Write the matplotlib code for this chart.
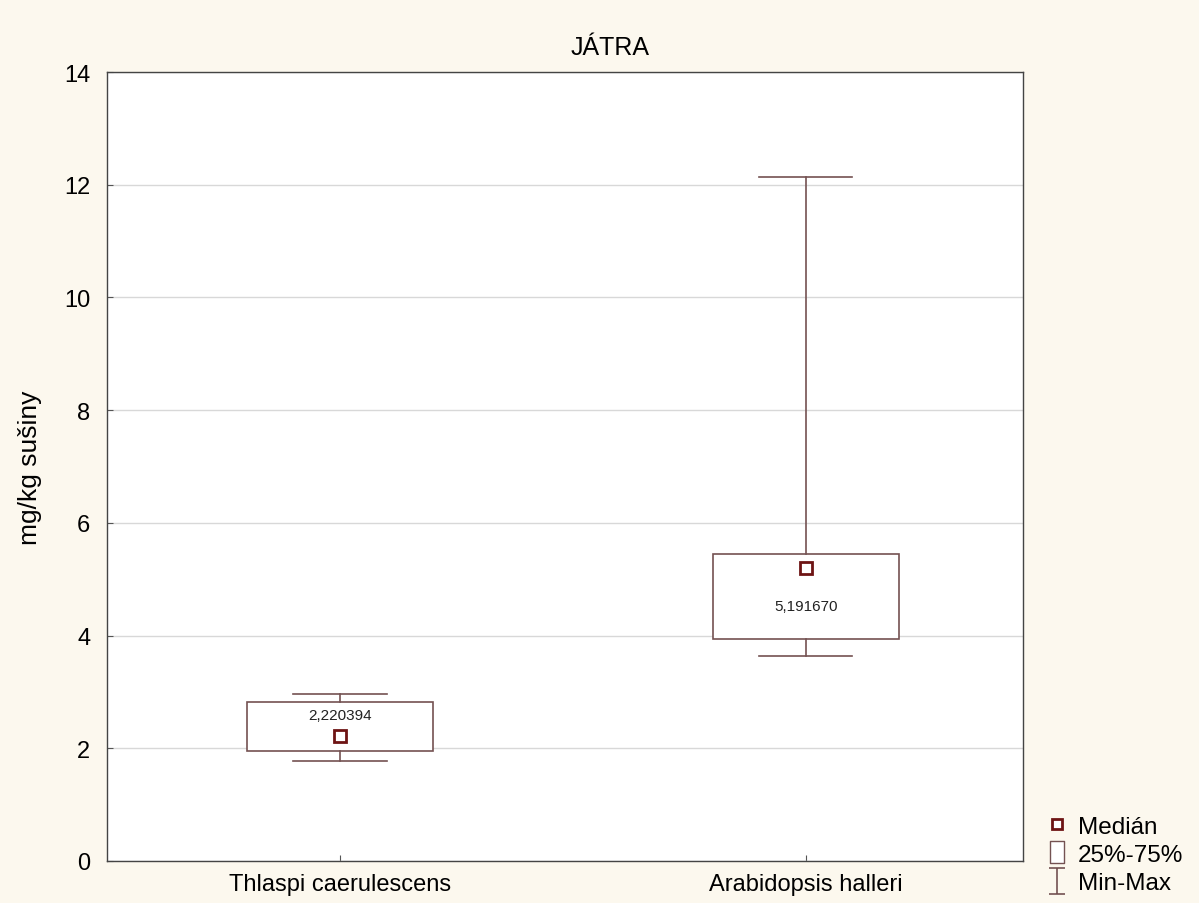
import matplotlib
matplotlib.use("Agg")
import matplotlib.pyplot as plt
from matplotlib.lines import Line2D
from matplotlib.path import Path

plt.rcParams['font.family'] = ['Liberation Sans', 'DejaVu Sans']

# Cd content in liver, summary per plant species
species = ["Thlaspi caerulescens", "Arabidopsis halleri"]
med = [2.220394, 5.191670]
q1 = [1.95, 3.94]
q3 = [2.82, 5.44]
vmin = [1.78, 3.64]
vmax = [2.97, 12.13]
med_labels = ["2,220394", "5,191670"]
label_offsets = [15, -27]  # points above/below the median marker

box_col = "#745252"
med_col = "#6e1414"
bg = "#fcf8ee"

fig = plt.figure(figsize=(11.99, 9.04), dpi=100, facecolor=bg)
ax = fig.add_axes([0.0892, 0.0465, 0.7640, 0.8727])
ax.set_facecolor("white")

stats = []
for i, name in enumerate(species):
    stats.append(dict(label=name, med=med[i], q1=q1[i], q3=q3[i],
                      whislo=vmin[i], whishi=vmax[i], fliers=[]))

pos = list(range(len(species)))
ax.bxp(stats, positions=pos, widths=0.40, patch_artist=True, showfliers=False,
       boxprops=dict(facecolor="white", edgecolor=box_col, linewidth=1.2),
       whiskerprops=dict(color=box_col, linewidth=1.2),
       capprops=dict(color=box_col, linewidth=1.2),
       medianprops=dict(linewidth=0),
       capwidths=0.20, zorder=3)

ax.plot(pos, med, linestyle="none", marker="s", markersize=8,
        markerfacecolor="white", markeredgecolor=med_col,
        markeredgewidth=2, zorder=4)

for x, m, txt, off in zip(pos, med, med_labels, label_offsets):
    ax.annotate(txt, (x, m), xytext=(0, off), textcoords="offset points",
                ha="center", va="center", fontsize=11, color="#222222",
                zorder=5)

ax.set_xlim(-0.5, 1.466)
ax.set_ylim(0, 14)
ax.set_yticks(range(0, 15, 2))
ax.set_xticks(pos)
ax.set_xticklabels(species)
ax.yaxis.grid(True, color="#d8d8d8", linewidth=1)
ax.set_axisbelow(True)
ax.tick_params(axis="both", direction="in", labelsize=17, length=4,
               color="#555555")
ax.tick_params(axis="y", pad=12)
ax.tick_params(axis="x", pad=9)
for s in ax.spines.values():
    s.set_color("#444444")
    s.set_linewidth(1)

ax.set_title("JÁTRA", fontsize=18, pad=13, x=0.549)
ax.set_ylabel("mg/kg sušiny", fontsize=19, labelpad=16)

# legend symbols
rect = Path([(-0.6, -1), (0.6, -1), (0.6, 1), (-0.6, 1), (-0.6, -1)],
            [Path.MOVETO, Path.LINETO, Path.LINETO, Path.LINETO, Path.CLOSEPOLY])
ibar = Path([(-0.62, 1), (0.62, 1), (0, 1), (0, -1), (-0.62, -1), (0.62, -1)],
            [Path.MOVETO, Path.LINETO, Path.MOVETO, Path.LINETO,
             Path.MOVETO, Path.LINETO])
handles = [
    Line2D([], [], linestyle="none", marker="s", markersize=7.5,
           markerfacecolor="white", markeredgecolor=med_col, markeredgewidth=2),
    Line2D([], [], linestyle="none", marker=rect, markersize=16.5,
           markerfacecolor="white", markeredgecolor=box_col, markeredgewidth=1),
    Line2D([], [], linestyle="none", marker=ibar, markersize=18.5,
           markerfacecolor="none", markeredgecolor=box_col, markeredgewidth=1.2),
]
fig.legend(handles, ["Medián", "25%-75%", "Min-Max"], loc="center left",
           bbox_to_anchor=(0.8716, 0.0531), frameon=False, fontsize=17.5,
           handlelength=1.0, handletextpad=0.36, labelspacing=0.26,
           borderaxespad=0, borderpad=0)

fig.savefig("out.png", dpi=100, facecolor=bg)
